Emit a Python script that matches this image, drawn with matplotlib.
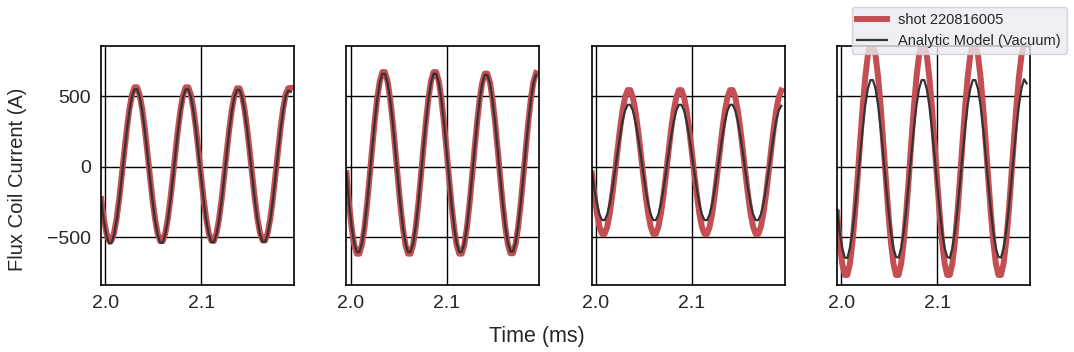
import numpy as np
import matplotlib
matplotlib.use("Agg")
import matplotlib.pyplot as plt

plt.rcParams['font.family'] = ['Liberation Sans', 'DejaVu Sans']
plt.rcParams['text.color'] = '#262626'
plt.rcParams['xtick.color'] = '#262626'
plt.rcParams['ytick.color'] = '#262626'

# sample times (ms), shared by every panel
t = 1.9958 + 0.002665 * np.arange(75)

shot_label = 'shot 220816005'
model_label = 'Analytic Model (Vacuum)'

# measured flux coil current (A), one list per coil
shot_1 = [-230, -369, -470, -523, -523, -470, -369, -230, -66, 106, 270, 409, 510, 563, 563, 510, 409, 270, 106, -66,
          -230, -369, -472, -528, -528, -472, -369, -230, -66, 106, 270, 409, 510, 563, 563, 510, 409, 270, 106, -66,
          -232, -371, -473, -526, -526, -473, -371, -232, -68, 104, 268, 405, 505, 556, 556, 503, 402, 266, 104, -66,
          -230, -369, -470, -523, -523, -470, -369, -230, -66, 106, 270, 409, 510, 556, 558]
shot_2 = [-45, -269, -434, -554, -617, -617, -554, -434, -269, -75, 129, 323, 488, 608, 671, 671, 608, 488, 323, 129,
          -75, -269, -434, -554, -617, -617, -554, -434, -269, -75, 129, 323, 488, 608, 671, 671, 608, 488, 323, 129,
          -75, -269, -434, -554, -617, -617, -554, -434, -269, -75, 127, 318, 480, 598, 660, 660, 598, 480, 318, 127,
          -73, -266, -430, -550, -614, -614, -550, -430, -266, -73, 127, 320, 484, 603, 664]
shot_3 = [-48, -201, -332, -427, -477, -477, -427, -332, -201, -48, 114, 267, 398, 493, 543, 543, 493, 398, 267, 114,
          -48, -201, -332, -427, -477, -477, -427, -332, -201, -48, 114, 267, 398, 493, 543, 543, 493, 398, 267, 114,
          -48, -201, -332, -427, -477, -477, -427, -332, -201, -48, 114, 267, 398, 493, 543, 543, 493, 398, 267, 114,
          -48, -201, -332, -427, -477, -477, -427, -332, -201, -48, 114, 267, 398, 493, 540]
shot_4 = [-325, -535, -688, -768, -768, -688, -535, -325, -78, 180, 427, 637, 790, 870, 870, 790, 637, 427, 180, -78,
          -325, -535, -688, -768, -768, -688, -535, -325, -78, 180, 427, 637, 790, 870, 870, 790, 637, 427, 180, -78,
          -325, -535, -688, -768, -768, -688, -535, -325, -78, 180, 427, 637, 790, 870, 870, 790, 637, 427, 180, -78,
          -325, -535, -688, -768, -768, -688, -535, -325, -78, 180, 427, 637, 790, 866, 866]

# analytic vacuum model (A)
model_1 = [-241, -379, -484, -545, -543, -482, -379, -241, -78, 94, 257, 395, 496, 549, 549, 496, 395, 257, 94, -78,
           -241, -379, -480, -538, -540, -480, -379, -241, -78, 94, 257, 395, 496, 549, 549, 496, 395, 257, 94, -78,
           -241, -379, -480, -533, -536, -480, -379, -241, -78, 94, 257, 395, 496, 545, 545, 494, 393, 257, 94, -78,
           -241, -379, -480, -533, -533, -480, -379, -241, -78, 94, 257, 395, 496, 540, 530]
model_2 = [-45, -264, -426, -543, -605, -605, -543, -426, -264, -73, 127, 318, 480, 597, 659, 659, 597, 480, 318, 127,
           -73, -264, -426, -543, -605, -605, -543, -426, -264, -73, 127, 318, 480, 597, 659, 659, 597, 480, 318, 127,
           -73, -264, -426, -543, -605, -605, -543, -426, -264, -73, 125, 314, 474, 590, 650, 650, 590, 474, 314, 125,
           -73, -262, -423, -540, -602, -602, -540, -423, -262, -73, 125, 316, 476, 592, 652]
model_3 = [-35, -158, -263, -339, -379, -379, -339, -263, -158, -35, 95, 218, 323, 399, 439, 439, 399, 323, 218, 95,
           -35, -158, -263, -339, -379, -379, -339, -263, -158, -35, 95, 218, 323, 399, 439, 439, 399, 323, 218, 95,
           -35, -158, -263, -339, -379, -379, -339, -263, -158, -35, 95, 218, 323, 399, 439, 439, 399, 323, 218, 95,
           -35, -158, -263, -339, -379, -379, -339, -263, -158, -35, 95, 218, 323, 399, 432]
model_4 = [-301, -462, -579, -645, -648, -579, -462, -301, -112, 86, 275, 436, 553, 614, 614, 553, 436, 275, 86, -112,
           -301, -462, -579, -640, -645, -579, -462, -301, -112, 86, 275, 436, 553, 614, 614, 553, 436, 275, 86, -112,
           -301, -462, -579, -640, -648, -579, -462, -301, -112, 86, 275, 436, 553, 614, 614, 553, 436, 275, 86, -112,
           -301, -462, -579, -640, -645, -579, -462, -301, -112, 86, 275, 436, 553, 620, 590]

shots = [shot_1, shot_2, shot_3, shot_4]
models = [model_1, model_2, model_3, model_4]

fig, axes = plt.subplots(1, 4, figsize=(10.74, 3.52), dpi=100, sharey=True)
plt.subplots_adjust(left=0.094, right=0.959, bottom=0.19, top=0.869, wspace=0.27)

for ax, shot, model in zip(axes, shots, models):
    ax.plot(t, shot, color='#C44E52', lw=4.3, label=shot_label)
    ax.plot(t, model, color='#333333', lw=1.6, label=model_label)
    ax.set_xlim(1.9955, 2.1965)
    ax.set_ylim(-840, 855)
    ax.set_xticks([2.0, 2.1])
    ax.set_xticklabels(['2.0', '2.1'])
    ax.set_yticks([-500, 0, 500])
    ax.grid(True, color='black', lw=1)
    ax.set_axisbelow(True)
    ax.tick_params(length=0, pad=7, labelsize=14)
    for s in ax.spines.values():
        s.set_color('black')
        s.set_linewidth(1.2)

fig.text(0.016, 0.49, 'Flux Coil Current (A)', rotation=90, ha='center', va='center', fontsize=14.5)
fig.text(0.5, 0.045, 'Time (ms)', ha='center', va='center', fontsize=15.5)

h, l = axes[-1].get_legend_handles_labels()
fig.legend(h, l, loc='upper right', bbox_to_anchor=(1.0, 1.0), fontsize=10.5,
           facecolor='#EAEAF2', edgecolor='0.8', framealpha=0.8, labelcolor='#262626')

fig.savefig('out.png', dpi=100)
